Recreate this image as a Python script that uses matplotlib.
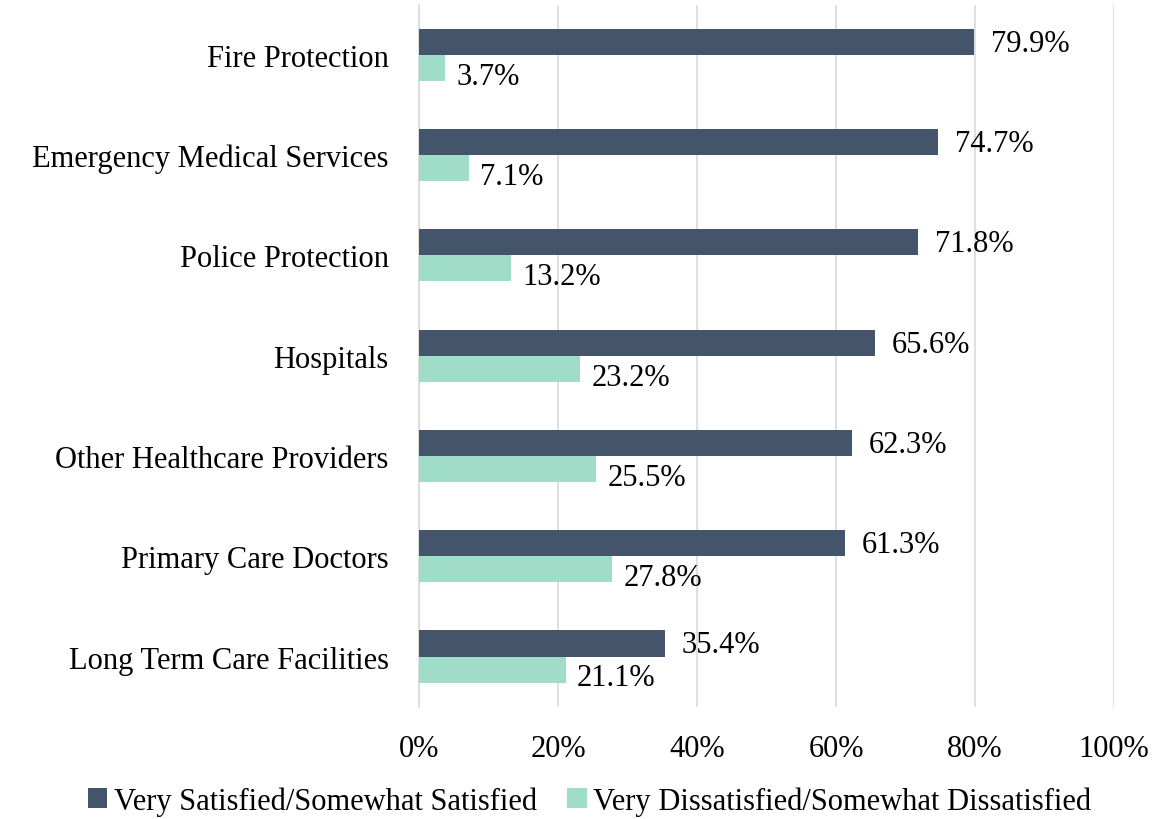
import numpy as np
import matplotlib.pyplot as plt
from matplotlib.ticker import PercentFormatter

# Satisfaction with local services (percent of respondents)
services = ['Fire Protection', 'Emergency Medical Services', 'Police Protection',
            'Hospitals', 'Other Healthcare Providers', 'Primary Care Doctors',
            'Long Term Care Facilities']
satisfied = [79.9, 74.7, 71.8, 65.6, 62.3, 61.3, 35.4]
dissatisfied = [3.7, 7.1, 13.2, 23.2, 25.5, 27.8, 21.1]
x_ticks = [0, 20, 40, 60, 80, 100]

plt.rcParams['font.family'] = ['Liberation Serif', 'DejaVu Serif']
font_size = 22

fig = plt.figure(figsize=(11.58, 8.2), dpi=100)
ax = fig.add_axes([0.362, 0.137, 0.6, 0.856])

y = np.arange(len(services))
h = 0.26
dark = '#44546A'
light = '#A0DDC8'

bars_sat = ax.barh(y - h / 2, satisfied, height=h, color=dark,
                   label='Very Satisfied/Somewhat Satisfied', zorder=3)
bars_dis = ax.barh(y + h / 2, dissatisfied, height=h, color=light,
                   label='Very Dissatisfied/Somewhat Dissatisfied', zorder=3)

# value labels at the end of each bar
for bar, v in zip(bars_sat, satisfied):
    ax.annotate(f'{v:.1f}%', (bar.get_width(), bar.get_y() + bar.get_height() / 2),
                xytext=(12, -1), textcoords='offset points', va='center',
                ha='left', fontsize=font_size)
for bar, v in zip(bars_dis, dissatisfied):
    ax.annotate(f'{v:.1f}%', (bar.get_width(), bar.get_y() + bar.get_height() / 2),
                xytext=(8, -6), textcoords='offset points', va='center',
                ha='left', fontsize=font_size)

ax.set_yticks(y)
ax.set_yticklabels(services, fontsize=font_size)
ax.set_ylim(len(services) - 0.5, -0.5)
ax.set_xlim(0, 100)
ax.set_xticks(x_ticks)
ax.xaxis.set_major_formatter(PercentFormatter(decimals=0))
ax.tick_params(axis='x', labelsize=font_size, length=0, pad=20)
ax.tick_params(axis='y', length=0, pad=22)

ax.grid(axis='x', color='#D9D9D9', linewidth=1.2, zorder=0)
for s in ['top', 'right', 'bottom']:
    ax.spines[s].set_visible(False)
ax.spines['left'].set_color('#D9D9D9')
ax.spines['left'].set_linewidth(1.2)

fig.legend(loc='center', bbox_to_anchor=(0.509, 0.022), ncol=2, frameon=False,
           fontsize=font_size, handlelength=0.65, handleheight=0.65,
           handletextpad=0.2, columnspacing=1.0)

fig.savefig('out.png', dpi=100)
